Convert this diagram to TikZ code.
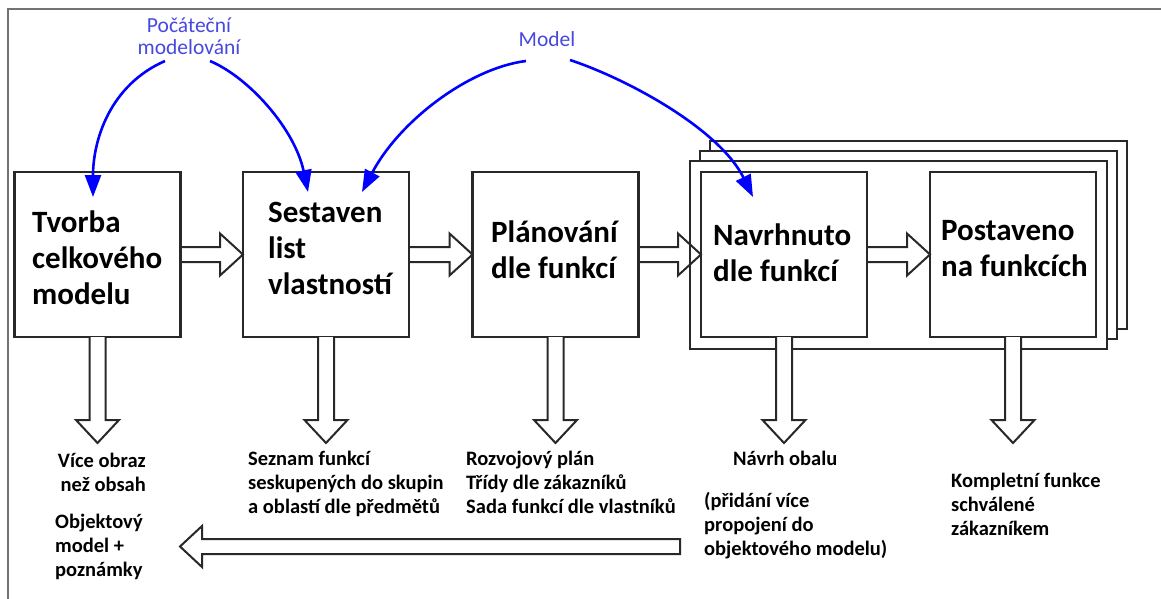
\documentclass[tikz,border=0pt]{standalone}
\usepackage{fontspec}
\setmainfont{Carlito}
\usetikzlibrary{arrows.meta,calc}

\definecolor{inkblue}{RGB}{0,0,255}
\definecolor{labelblue}{RGB}{72,72,225}
\definecolor{boxline}{RGB}{40,40,40}
\definecolor{frameline}{RGB}{115,115,115}

% multi-line text whose reference point is the first baseline
\newcommand{\stack}[2][l]{\begin{tabular}[t]{@{}#1@{}}#2\end{tabular}}

% hollow block arrow pointing right: shaft from #1, tip at #2
\newcommand{\pushright}[2]{%
  \draw[hollow] let \p1=(#1), \p2=(#2) in
    (\x1,\y1+7.5pt) -- (\x2-23pt,\y1+7.5pt) -- (\x2-23pt,\y1+21pt) -- (\x2,\y1)
    -- (\x2-23pt,\y1-21pt) -- (\x2-23pt,\y1-7.5pt) -- (\x1,\y1-7.5pt);}

% hollow block arrow pointing down: shaft from #1, tip at #2
\newcommand{\pushdown}[2]{%
  \draw[hollow,fill=white] let \p1=(#1), \p2=(#2) in
    (\x1-8pt,\y1) -- (\x1-8pt,\y2+23pt) -- (\x1-21.5pt,\y2+23pt) -- (\x1,\y2)
    -- (\x1+21.5pt,\y2+23pt) -- (\x1+8pt,\y2+23pt) -- (\x1+8pt,\y1);}

\begin{document}
\begin{tikzpicture}[x=1pt,y=-1pt,
  stage/.style={draw=boxline, line width=2.2pt, fill=white, minimum width=166pt,
    minimum height=165pt, inner sep=0pt, outer sep=0pt},
  stagetext/.style={font=\fontsize{31}{36}\selectfont\bfseries, anchor=base west,
    inner sep=0pt, text=black},
  note/.style={font=\fontsize{20.5}{24}\selectfont\bfseries, anchor=base west,
    inner sep=0pt, text=black},
  topic/.style={font=\fontsize{21.5}{22}\selectfont, text=labelblue, inner sep=0pt,
    anchor=base},
  layer/.style={draw=boxline, line width=2.2pt, fill=white},
  hollow/.style={draw=boxline, line width=2pt, line join=miter},
  flow/.style={draw=inkblue, line width=2.6pt, -{Triangle[length=22pt,width=16pt]}},
]
\useasboundingbox (0,0) rectangle (1161,599);
\fill[white] (0,0) rectangle (1161,599);

% page frame
\draw[frameline, line width=1.3pt] (8,599) -- (8,9) -- (1161,9);

% stacked sheets behind the last two stages
\draw[layer] (710,141) rectangle (1127,329);
\draw[layer] (700,151) rectangle (1117,339);
\draw[layer] (690,161) rectangle (1107,349);

% process stages
\node[stage] (b1) at (97.5,254.5) {};
\node[stage] (b2) at (326,254.5) {};
\node[stage] (b3) at (555.5,254.5) {};
\node[stage] (b4) at (784,254.5) {};
\node[stage] (b5) at (1013,254.5) {};

\node[stagetext] (b1t) at ([shift={(17.5,60)}]b1.north west) {\stack{Tvorba\\celkového\\modelu}};
\node[stagetext] (b2t) at ([shift={(25,50)}]b2.north west) {\stack{Sestaven\\list\\vlastností}};
\node[stagetext] (b3t) at ([shift={(18.5,70)}]b3.north west) {\stack{Plánování\\dle funkcí}};
\node[stagetext] (b4t) at ([shift={(12,73)}]b4.north west) {\stack{Navrhnuto\\dle funkcí}};
\node[stagetext] (b5t) at ([shift={(11,68)}]b5.north west) {\stack{Postaveno\\na funkcích}};

% flow between stages
\pushright{b1.east}{b2.west}
\pushright{b2.east}{b3.west}
\pushright{b3.east}{b4.west}
\pushright{b4.east}{b5.west}

% outputs of each stage
\coordinate (d1) at ([yshift=-106pt]b1.south);
\coordinate (d2) at ([yshift=-106pt]b2.south);
\coordinate (d3) at ([yshift=-106pt]b3.south);
\coordinate (d4) at ([yshift=-106pt]b4.south);
\coordinate (d5) at ([yshift=-106pt]b5.south);
\pushdown{b1.south}{d1}
\pushdown{b2.south}{d2}
\pushdown{b3.south}{d3}
\pushdown{b4.south}{d4}
\pushdown{b5.south}{d5}

\node[note, anchor=base east] (n1) at (146,467) {\stack[r]{Více obraz\\než obsah}};
\node[note] (n1b) at (55,528) {\stack{Objektový\\model +\\poznámky}};
\node[note] (n2) at (248,465) {\stack{Seznam funkcí\\seskupených do skupin\\a oblastí dle předmětů}};
\node[note] (n3) at (466,465) {\stack{Rozvojový plán\\Třídy dle zákazníků\\Sada funkcí dle vlastníků}};
\node[note] (n4) at (733,465) {Návrh obalu};
\node[note] (n4b) at (704,507) {\stack{(přidání více\\propojení do\\objektového modelu)}};
\node[note] (n5) at (951,487) {\stack{Kompletní funkce\\schválené\\zákazníkem}};

% feedback into the object model
\coordinate (fbstart) at (680,546.5);
\coordinate (fbtip) at (180,546.5);
\draw[hollow] let \p1=(fbstart), \p2=(fbtip) in
  (\x1,\y1+7.5pt) -- (\x2+22pt,\y1+7.5pt) -- (\x2+22pt,\y1+20.5pt) -- (\x2,\y1)
  -- (\x2+22pt,\y1-20.5pt) -- (\x2+22pt,\y1-7.5pt) -- (\x1,\y1-7.5pt) -- cycle;

% modelling annotations
\node[topic] (initial) at (189,33) {\stack[c]{Počáteční\\modelování}};
\node[topic] (model) at (547,47) {Model};

\coordinate (s1) at (165,61);
\coordinate (s2) at (210,61);
\coordinate (s3) at (526,61);
\coordinate (s4) at (570,60);
\coordinate (t1) at (93,197);
\coordinate (t2) at (308,192);
\coordinate (t3) at (362,192);
\coordinate (t4) at (753,197);

\draw[flow] (s1) .. controls (110,85) and (93,140) .. (t1);
\draw[flow] (s2) .. controls (250,78) and (295,130) .. (t2);
\draw[flow] (s3) .. controls (470,68) and (400,120) .. (t3);
\draw[flow] (s4) .. controls (630,80) and (720,130) .. (t4);
\end{tikzpicture}
\end{document}
